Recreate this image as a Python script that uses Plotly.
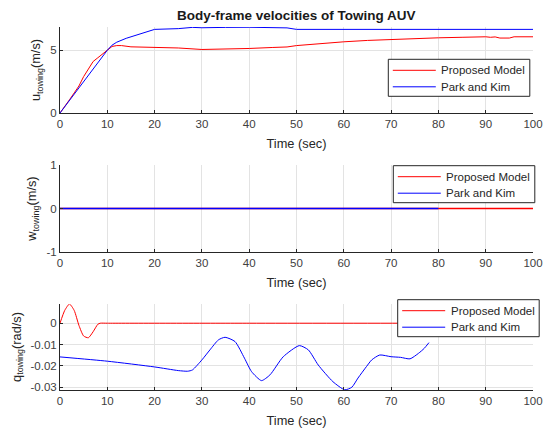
import plotly.graph_objects as go

# ---------------- data ----------------
t_u_red = [0, 1, 2, 3, 4, 5, 6, 7, 8, 9, 10, 11, 12, 13, 15, 20, 25, 30, 35, 40, 45, 48, 50, 55, 60, 65, 70, 75, 80, 85, 88, 89, 90, 91, 92, 93, 95, 96, 100]
u_red = [0, 0.5, 1.05, 1.6, 2.15, 2.9, 3.55, 4.1, 4.4, 4.7, 5.05, 5.3, 5.37, 5.37, 5.27, 5.24, 5.18, 5.06, 5.08, 5.14, 5.22, 5.26, 5.37, 5.55, 5.67, 5.78, 5.86, 5.93, 5.99, 6.03, 6.05, 6.09, 6.07, 6.03, 6.06, 5.97, 5.97, 6.07, 6.07]

t_u_blue = [0, 1, 2, 3, 4, 5, 6, 7, 8, 9, 10, 11, 12, 14, 16, 18, 20, 25, 28, 30, 32, 35, 40, 45, 48, 50, 100]
u_blue = [0, 0.5, 1.05, 1.55, 2.05, 2.55, 3.05, 3.55, 4.0, 4.5, 5.0, 5.4, 5.64, 5.95, 6.2, 6.45, 6.66, 6.72, 6.82, 6.79, 6.78, 6.82, 6.83, 6.82, 6.78, 6.66, 6.66]

t_w_red = [0, 100]
w_red = [0, 0]
t_w_blue = [0, 80]
w_blue = [0, 0]

t_q_red = [0, 1, 2, 3, 4, 5, 6, 7, 8, 8.5, 10, 40, 78, 100]
q_red = [0, 0.006, 0.009, 0.006, -0.001, -0.006, -0.0068, -0.004, -0.0005, 0, 0, 0, 0, 0]

t_q_blue = [0, 10, 20, 25, 27, 28, 30, 31.7, 33.5, 34.9, 37, 39, 40.5, 42.6, 44.4, 47.2, 50.6, 52.5, 54.6, 57.7, 60.2, 61.7, 63, 64.8, 65.9, 67.6, 70, 72, 74, 75.8, 77, 78]
q_blue = [-0.0158, -0.0178, -0.0205, -0.0222, -0.0225, -0.0219, -0.0172, -0.0125, -0.0078, -0.0066, -0.0086, -0.0164, -0.0227, -0.0269, -0.0242, -0.0157, -0.0105, -0.0125, -0.0196, -0.0274, -0.0312, -0.0300, -0.0257, -0.0203, -0.0172, -0.0149, -0.0157, -0.0160, -0.0167, -0.0141, -0.0118, -0.0091]

x_ticks = [0, 10, 20, 30, 40, 50, 60, 70, 80, 90, 100]
names = ["Proposed Model", "Park and Kim"]
RED = "#ff0000"
BLUE = "#0000ff"
colors = [RED, BLUE]

W, H = 545, 432
def px_x(a):
    return a / W
def px_y(a):
    return 1 - a / H

fig = go.Figure()

# top
fig.add_trace(go.Scatter(x=t_u_red, y=u_red, mode="lines", line=dict(color=RED, width=1),
                         name=names[0], xaxis="x", yaxis="y", showlegend=False))
fig.add_trace(go.Scatter(x=t_u_blue, y=u_blue, mode="lines", line=dict(color=BLUE, width=1),
                         name=names[1], xaxis="x", yaxis="y", showlegend=False))
# middle
fig.add_trace(go.Scatter(x=t_w_red, y=w_red, mode="lines", line=dict(color=RED, width=1.3),
                         name=names[0], xaxis="x2", yaxis="y2", showlegend=False))
fig.add_trace(go.Scatter(x=t_w_blue, y=w_blue, mode="lines", line=dict(color=BLUE, width=1.3),
                         name=names[1], xaxis="x2", yaxis="y2", showlegend=False))
# bottom
fig.add_trace(go.Scatter(x=t_q_red, y=q_red, mode="lines", line=dict(color=RED, width=1, shape="spline", smoothing=0.6),
                         name=names[0], xaxis="x3", yaxis="y3", showlegend=False))
fig.add_trace(go.Scatter(x=t_q_blue, y=q_blue, mode="lines", line=dict(color=BLUE, width=1, shape="spline", smoothing=0.6),
                         name=names[1], xaxis="x3", yaxis="y3", showlegend=False))

FONT = "Liberation Sans, Arial, sans-serif"
AX = "#262626"
GRID = "#e3e3e3"
TICKF = dict(family=FONT, size=11.5, color="#404040")

xdom = [px_x(60), px_x(533)]

def xax(anchor):
    return dict(domain=xdom, anchor=anchor, range=[0, 100], tickvals=x_ticks, automargin=False,
                showgrid=True, gridcolor=GRID, gridwidth=1, zeroline=False,
                showline=True, linecolor=AX, linewidth=1, ticks="inside", ticklen=3,
                tickcolor=AX, tickfont=TICKF,
                title=dict(text="Time (sec)", font=dict(family=FONT, size=12.8, color="#262626"), standoff=10))

def yax(anchor, dom, rng, tv, tt, title):
    return dict(domain=dom, anchor=anchor, range=rng, tickvals=tv, ticktext=tt, automargin=False,
                showgrid=True, gridcolor=GRID, gridwidth=1, zeroline=False,
                showline=True, linecolor=AX, linewidth=1, ticks="inside", ticklen=3,
                tickcolor=AX, tickfont=TICKF,
                title=dict(text=title, font=dict(family=FONT, size=12.8, color="#262626"), standoff=6))

# custom legends (box top-left corners in pixels)
legend_boxes = [(388.3, 59.3), (393.3, 165.7), (397.7, 299.7)]
LW, LH = 141.5, 37
shapes = []
annotations = []
for (bx, by) in legend_boxes:
    shapes.append(dict(type="rect", xref="paper", yref="paper",
                       x0=px_x(bx), x1=px_x(bx + LW), y0=px_y(by + LH), y1=px_y(by),
                       line=dict(color=AX, width=1), fillcolor="white", layer="above"))
    for i, nm in enumerate(names):
        ry = by + 11 + i * 16.5
        shapes.append(dict(type="line", xref="paper", yref="paper",
                           x0=px_x(bx + 4.5), x1=px_x(bx + 47.5), y0=px_y(ry), y1=px_y(ry),
                           line=dict(color=colors[i], width=1), layer="above"))
        annotations.append(dict(text=nm, x=px_x(bx + 51), y=px_y(ry), xref="paper", yref="paper",
                                showarrow=False, xanchor="left", yanchor="middle",
                                font=dict(family=FONT, size=11.5, color="#262626")))

annotations.append(dict(text="<b>Body-frame velocities of Towing AUV</b>", x=(xdom[0] + xdom[1]) / 2,
                        y=px_y(16), xref="paper", yref="paper", showarrow=False,
                        xanchor="center", yanchor="middle",
                        font=dict(family=FONT, size=13.5, color="#1a1a1a")))

fig.update_layout(
    width=W, height=H,
    margin=dict(l=0, r=0, t=0, b=0),
    paper_bgcolor="white", plot_bgcolor="white",
    showlegend=False,
    xaxis=xax("y"),
    yaxis=yax("x", [px_y(113), px_y(27)], [0, 6.85], [0, 5], ["0", "5"], "u<sub>towing</sub>(m/s)"),
    xaxis2=xax("y2"),
    yaxis2=yax("x2", [px_y(252), px_y(165)], [-1, 1], [-1, 0, 1], ["-1", "0", "1"], "w<sub>towing</sub>(m/s)"),
    xaxis3=xax("y3"),
    yaxis3=yax("x3", [px_y(390), px_y(304)], [-0.0313, 0.009], [-0.03, -0.02, -0.01, 0],
               ["-0.03", "-0.02", "-0.01", "0"], "q<sub>towing</sub>(rad/s)"),
    shapes=shapes,
    annotations=annotations,
)

fig.write_html("out.html")
